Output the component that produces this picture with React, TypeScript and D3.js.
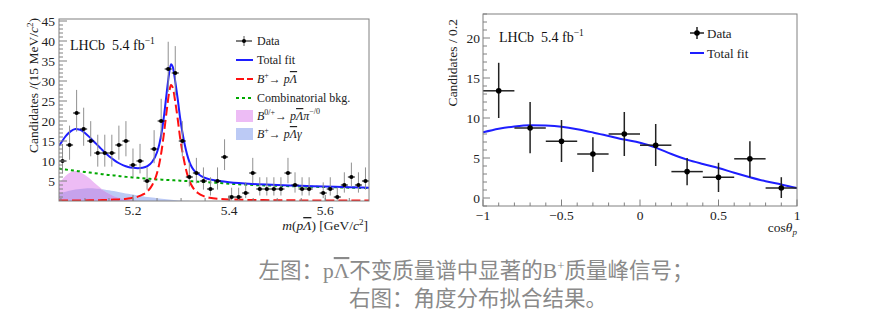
import * as d3 from 'd3';

// ---- left panel: m(p Lambda-bar) spectrum ----
const massLo = 5.046;
const massHi = 5.691;
const massCounts = [10, 14, 22, 18, 15, 12, 12, 12, 14, 15, 9, 10, 5, 13, 20, 33, 32, 15, 6, 7, 5, 3,
  5, 11, 1, 1, 2, 7, 3, 3, 3, 3, 7, 4, 3, 3, 0, 2, 3, 1, 4, 6, 4, 5];

const fitMass = [5.046, 5.05, 5.06, 5.07, 5.08, 5.09, 5.1, 5.11, 5.12, 5.13, 5.14, 5.15, 5.16, 5.17, 5.18,
  5.19, 5.2, 5.21, 5.22, 5.23, 5.24, 5.25, 5.255, 5.26, 5.265, 5.27, 5.275, 5.279, 5.283, 5.288, 5.293,
  5.298, 5.304, 5.31, 5.315, 5.32, 5.326, 5.335, 5.347, 5.36, 5.38, 5.4, 5.45, 5.5, 5.55, 5.6, 5.65, 5.691];
const totalFit = [13.8, 14.5, 16.2, 17.4, 18.0, 17.8, 17.0, 15.9, 14.7, 13.5, 12.3, 11.2, 10.3, 9.5, 8.9,
  8.5, 8.3, 8.2, 8.3, 8.7, 9.8, 12.2, 14.3, 17.5, 21.8, 27.0, 31.8, 34.2, 33.4, 29.8, 25.5,
  20.8, 16.3, 12.8, 10.6, 9.0, 7.8, 6.8, 5.9, 5.4, 5.0, 4.7, 4.25, 4.0, 3.8, 3.6, 3.45, 3.3];
const signalFit = [0.1, 0.1, 0.1, 0.1, 0.1, 0.12, 0.14, 0.16, 0.18, 0.2, 0.25, 0.3, 0.35, 0.4, 0.5,
  0.6, 0.8, 1.1, 1.6, 2.4, 4.0, 7.0, 9.5, 13.0, 17.5, 22.5, 27.0, 29.0, 28.2, 24.7, 20.5,
  15.8, 11.5, 8.0, 5.8, 4.3, 3.1, 2.0, 1.2, 0.8, 0.55, 0.4, 0.25, 0.2, 0.15, 0.12, 0.1, 0.1];
const combFit = [8.1, 8.0, 7.85, 7.7, 7.55, 7.4, 7.25, 7.1, 6.95, 6.8, 6.65, 6.5, 6.4, 6.25, 6.1,
  6.0, 5.9, 5.8, 5.7, 5.6, 5.5, 5.4, 5.37, 5.33, 5.3, 5.27, 5.23, 5.2, 5.18, 5.15, 5.12,
  5.08, 5.05, 5.0, 4.97, 4.93, 4.9, 4.83, 4.75, 4.65, 4.5, 4.33, 4.0, 3.8, 3.63, 3.48, 3.34, 3.22];

const shadeMass = [5.046, 5.05, 5.06, 5.07, 5.08, 5.09, 5.1, 5.11, 5.12, 5.13, 5.14, 5.15, 5.16, 5.17,
  5.18, 5.19, 5.2, 5.21, 5.22, 5.23, 5.24, 5.25, 5.26, 5.27, 5.28, 5.29, 5.3, 5.31, 5.32, 5.33, 5.34];
const pionBkg = [4.6, 5.0, 6.3, 7.2, 7.5, 7.2, 6.5, 5.6, 4.5, 3.5, 2.5, 1.8, 1.2, 0.8,
  0.5, 0.25, 0.1, 0, 0, 0, 0, 0, 0, 0, 0, 0, 0, 0, 0, 0, 0];
const gammaBkg = [1.9, 2.0, 2.3, 2.6, 2.85, 3.0, 3.15, 3.2, 3.15, 3.05, 2.9, 2.7, 2.5, 2.25,
  2.0, 1.8, 1.6, 1.4, 1.2, 1.0, 0.85, 0.7, 0.55, 0.42, 0.3, 0.2, 0.12, 0.06, 0.02, 0, 0];

// ---- right panel: cos(theta_p) ----
const cosCenters = [-0.9, -0.7, -0.5, -0.3, -0.1, 0.1, 0.3, 0.5, 0.7, 0.9];
const cosValues = [13.4, 8.75, 7.1, 5.5, 8.0, 6.6, 3.3, 2.6, 4.9, 1.25];
const cosErrHi = [16.9, 12.0, 9.75, 7.6, 10.75, 9.25, 5.0, 4.4, 7.1, 2.6];
const cosErrLo = [10.0, 5.6, 4.5, 3.25, 5.25, 4.0, 1.6, 0.75, 2.6, 0.0];
const cosFitX = [-1, -0.9, -0.8, -0.7, -0.6, -0.5, -0.4, -0.3, -0.2, -0.1, 0, 0.1, 0.2, 0.3, 0.4, 0.5,
  0.6, 0.7, 0.8, 0.9, 1];
const cosFitY = [8.2, 8.65, 8.95, 9.1, 9.05, 8.9, 8.6, 8.2, 7.75, 7.3, 6.9, 6.3, 5.5, 4.8, 4.25, 3.75,
  3.15, 2.6, 2.1, 1.7, 1.25];

const L = { x0: 59, x1: 369, y0: 19, y1: 201 };
const R = { x0: 483, x1: 797, y0: 14, y1: 206 };
const serif = "'Liberation Serif', 'Times New Roman', serif";
const frameCol = '#808080';

// Gehrels approximation of Poisson intervals
const poisHi = (n: number) => n + Math.sqrt(n + 0.75) + 1;
const poisLo = (n: number) => (n <= 0 ? 0 : n * Math.pow(1 - 1 / (9 * n) - 1 / (3 * Math.sqrt(n)), 3));

function Lbar({ children }: { children: string }) {
  return <tspan style={{ textDecoration: 'overline' }}>{children}</tspan>;
}

export default function App() {
  const lx = d3.scaleLinear().domain([massLo, massHi]).range([L.x0, L.x1]);
  const ly = d3.scaleLinear().domain([0, 45.5]).range([L.y1, L.y0]);
  const rx = d3.scaleLinear().domain([-1, 1]).range([R.x0, R.x1]);
  const ry = d3.scaleLinear().domain([-1, 23]).range([R.y1, R.y0]);

  const binW = (massHi - massLo) / massCounts.length;
  const fitLine = (ys: number[]) =>
    d3.line<number>().x((_, i) => lx(fitMass[i])).y((d) => ly(d)).curve(d3.curveMonotoneX)(ys) || '';
  const shadeArea = (ys: number[]) =>
    d3.area<number>().x((_, i) => lx(shadeMass[i])).y0(ly(0)).y1((d) => ly(d)).curve(d3.curveMonotoneX)(ys) || '';
  const overlap = pionBkg.map((p, i) => Math.min(p, gammaBkg[i]));
  const cosLine = d3.line<number>().x((_, i) => rx(cosFitX[i])).y((d) => ry(d)).curve(d3.curveMonotoneX)(cosFitY) || '';

  const lyMinor = d3.range(1, 46).filter((v) => v % 5 !== 0);
  const lyMajor = d3.range(5, 46, 5);
  const lxMinor = d3.range(21, 114).map((i) => i * 0.05).filter((v) => v > massLo && v < massHi);
  const lxMajor = [5.2, 5.4, 5.6];
  const ryMinor = d3.range(-1, 24).filter((v) => v % 5 !== 0);
  const ryMajor = [0, 5, 10, 15, 20];
  const rxMinor = d3.range(-9, 10).map((i) => i / 10).filter((v) => Math.abs(v * 2 - Math.round(v * 2)) > 1e-6);
  const rxMajor = [-1, -0.5, 0, 0.5, 1];

  const legendY = [41, 60, 79, 98, 116, 134];

  return (
    <svg width={884} height={318} style={{ position: 'absolute', left: 0, top: 0, background: '#fff' }}
      fontFamily={serif}>
      <defs>
        <clipPath id="clipL"><rect x={L.x0} y={L.y0} width={L.x1 - L.x0} height={L.y1 - L.y0} /></clipPath>
        <clipPath id="clipR"><rect x={R.x0} y={R.y0} width={R.x1 - R.x0} height={R.y1 - R.y0} /></clipPath>
      </defs>

      {/* ===== left panel ===== */}
      <g clipPath="url(#clipL)">
        <path d={shadeArea(gammaBkg)} fill="#bccaf5" />
        <path d={shadeArea(pionBkg)} fill="#edbcf5" />
        <path d={shadeArea(overlap)} fill="#c6a2ec" />
        <path d={fitLine(combFit)} fill="none" stroke="#00a800" strokeWidth={2} strokeDasharray="3,3" />
        <path d={fitLine(signalFit)} fill="none" stroke="#ff1010" strokeWidth={2} strokeDasharray="9,4" />
        <path d={fitLine(totalFit)} fill="none" stroke="#1e1eff" strokeWidth={2} />
      </g>
      {massCounts.map((n, i) => {
        if (n === 0) return null;
        const c = massLo + (i + 0.5) * binW;
        return (
          <g key={'d' + i}>
            <line x1={lx(c)} x2={lx(c)} y1={ly(Math.min(poisHi(n), 45.5))} y2={ly(poisLo(n))} stroke="#909090" strokeWidth={1} />
            <line x1={lx(c - binW / 2)} x2={lx(c + binW / 2)} y1={ly(n)} y2={ly(n)} stroke="#000" strokeWidth={1} />
            <circle cx={lx(c)} cy={ly(n)} r={2.1} fill="#000" />
          </g>
        );
      })}
      <rect x={L.x0} y={L.y0} width={L.x1 - L.x0} height={L.y1 - L.y0} fill="none" stroke={frameCol} strokeWidth={1} />
      {lyMinor.map((v) => <line key={'lym' + v} x1={L.x0} x2={L.x0 + 4} y1={ly(v)} y2={ly(v)} stroke={frameCol} />)}
      {lyMajor.map((v) => (
        <g key={'lyM' + v}>
          <line x1={L.x0} x2={L.x0 + 8} y1={ly(v)} y2={ly(v)} stroke={frameCol} />
          <text x={L.x0 - 4} y={ly(v) + 4.5} textAnchor="end" fontSize={13.5} fill="#222">{v}</text>
        </g>
      ))}
      {lxMinor.map((v) => <line key={'lxm' + v} x1={lx(v)} x2={lx(v)} y1={L.y1} y2={L.y1 - 3} stroke={frameCol} />)}
      {lxMajor.map((v) => (
        <g key={'lxM' + v}>
          <line x1={lx(v)} x2={lx(v)} y1={L.y1} y2={L.y1 - 6} stroke={frameCol} />
          <text x={lx(v)} y={215} textAnchor="middle" fontSize={13.5} fill="#222">{v.toFixed(1)}</text>
        </g>
      ))}
      <text x={368} y={230} textAnchor="end" fontSize={13.5} fill="#222">
        <tspan fontStyle="italic">m</tspan>(<tspan fontStyle="italic">p<Lbar>Λ</Lbar></tspan>) [GeV/<tspan fontStyle="italic">c</tspan>
        <tspan dy={-5} fontSize={9}>2</tspan><tspan dy={5}>]</tspan>
      </text>
      <text transform="translate(38,18) rotate(-90)" textAnchor="end" fontSize={13.5} fill="#222">
        Candidates /(15 MeV/<tspan fontStyle="italic">c</tspan><tspan dy={-5} fontSize={9}>2</tspan><tspan dy={5}>)</tspan>
      </text>
      <text x={70} y={50} fontSize={14} fill="#111">
        LHCb{'\u00a0\u00a0'}5.4 fb<tspan dy={-6} fontSize={9.5}>−1</tspan>
      </text>

      {/* left legend */}
      <g fontSize={12} fill="#222">
        <line x1={244} x2={244} y1={legendY[0] - 5} y2={legendY[0] + 5} stroke="#555" />
        <line x1={236} x2={252} y1={legendY[0]} y2={legendY[0]} stroke="#000" />
        <circle cx={244} cy={legendY[0]} r={2} fill="#000" />
        <text x={257} y={legendY[0] + 4}>Data</text>
        <line x1={236} x2={253} y1={legendY[1]} y2={legendY[1]} stroke="#1e1eff" strokeWidth={2} />
        <text x={257} y={legendY[1] + 4}>Total fit</text>
        <line x1={236} x2={253} y1={legendY[2]} y2={legendY[2]} stroke="#ff1010" strokeWidth={2} strokeDasharray="8,3" />
        <text x={257} y={legendY[2] + 4}>
          <tspan fontStyle="italic">B</tspan><tspan dy={-5} fontSize={8}>+</tspan><tspan dy={5}>→ </tspan>
          <tspan fontStyle="italic">p<Lbar>Λ</Lbar></tspan>
        </text>
        <line x1={236} x2={253} y1={legendY[3]} y2={legendY[3]} stroke="#00a800" strokeWidth={2} strokeDasharray="3,3" />
        <text x={257} y={legendY[3] + 4}>Combinatorial bkg.</text>
        <rect x={236} y={legendY[4] - 6} width={17} height={12} fill="#edbcf5" />
        <text x={257} y={legendY[4] + 4}>
          <tspan fontStyle="italic">B</tspan><tspan dy={-5} fontSize={8}>0/+</tspan><tspan dy={5}>→ </tspan>
          <tspan fontStyle="italic">p<Lbar>Λ</Lbar>π</tspan><tspan dy={-6} fontSize={8}>−/0</tspan>
        </text>
        <rect x={236} y={legendY[5] - 6} width={17} height={12} fill="#bccaf5" />
        <text x={257} y={legendY[5] + 4}>
          <tspan fontStyle="italic">B</tspan><tspan dy={-5} fontSize={8}>+</tspan><tspan dy={5}>→ </tspan>
          <tspan fontStyle="italic">p<Lbar>Λ</Lbar>γ</tspan>
        </text>
      </g>

      {/* ===== right panel ===== */}
      <g clipPath="url(#clipR)">
        <path d={cosLine} fill="none" stroke="#1e1eff" strokeWidth={2} />
      </g>
      {cosCenters.map((c, i) => (
        <g key={'c' + i} stroke="#222" strokeWidth={1.5}>
          <line x1={rx(c)} x2={rx(c)} y1={ry(cosErrHi[i])} y2={ry(cosErrLo[i])} />
          <line x1={rx(c - 0.1)} x2={rx(c + 0.1)} y1={ry(cosValues[i])} y2={ry(cosValues[i])} />
          <circle cx={rx(c)} cy={ry(cosValues[i])} r={2.8} fill="#000" stroke="none" />
        </g>
      ))}
      <rect x={R.x0} y={R.y0} width={R.x1 - R.x0} height={R.y1 - R.y0} fill="none" stroke={frameCol} strokeWidth={1} />
      {ryMinor.map((v) => <line key={'rym' + v} x1={R.x0} x2={R.x0 + 4} y1={ry(v)} y2={ry(v)} stroke={frameCol} />)}
      {ryMajor.map((v) => (
        <g key={'ryM' + v}>
          <line x1={R.x0} x2={R.x0 + 7} y1={ry(v)} y2={ry(v)} stroke={frameCol} />
          <text x={R.x0 - 3} y={ry(v) + 4.5} textAnchor="end" fontSize={13.5} fill="#222">{v}</text>
        </g>
      ))}
      {rxMinor.map((v) => <line key={'rxm' + v} x1={rx(v)} x2={rx(v)} y1={R.y1} y2={R.y1 - 3.5} stroke={frameCol} />)}
      {rxMajor.map((v) => (
        <g key={'rxM' + v}>
          <line x1={rx(v)} x2={rx(v)} y1={R.y1} y2={R.y1 - 6.5} stroke={frameCol} />
          <text x={rx(v)} y={220} textAnchor="middle" fontSize={13.5} fill="#222">{v < 0 ? '−' + Math.abs(v) : v}</text>
        </g>
      ))}
      <text x={797} y={232} textAnchor="end" fontSize={13.5} fill="#222">
        cos<tspan fontStyle="italic">θ</tspan><tspan fontStyle="italic" dy={3} fontSize={9}>p</tspan>
      </text>
      <text transform="translate(457,19) rotate(-90)" textAnchor="end" fontSize={13.5} fill="#222">Candidates / 0.2</text>
      <text x={499} y={42} fontSize={14} fill="#111">
        LHCb{'\u00a0\u00a0'}5.4 fb<tspan dy={-6} fontSize={9.5}>−1</tspan>
      </text>

      {/* right legend */}
      <g fontSize={13} fill="#222">
        <line x1={697} x2={697} y1={27} y2={39} stroke="#222" strokeWidth={1.5} />
        <line x1={690} x2={704} y1={33} y2={33} stroke="#222" strokeWidth={1.5} />
        <circle cx={697} cy={33} r={2.8} fill="#000" />
        <text x={707} y={37.5}>Data</text>
        <line x1={690} x2={704} y1={53} y2={53} stroke="#1e1eff" strokeWidth={2} />
        <text x={707} y={57.5}>Total fit</text>
      </g>

      {/* caption */}
      <g fontFamily="'Liberation Serif', 'Noto Sans CJK SC', serif" fontSize={21.5} fill="#8a8a8a" textAnchor="middle">
        <text x={476} y={278}>
          左图：p<Lbar>Λ</Lbar>不变质量谱中显著的B<tspan dy={-8} fontSize={13}>+</tspan><tspan dy={8}>质量峰信号；</tspan>
        </text>
        <text x={478} y={306}>右图：角度分布拟合结果。</text>
      </g>
    </svg>
  );
}
